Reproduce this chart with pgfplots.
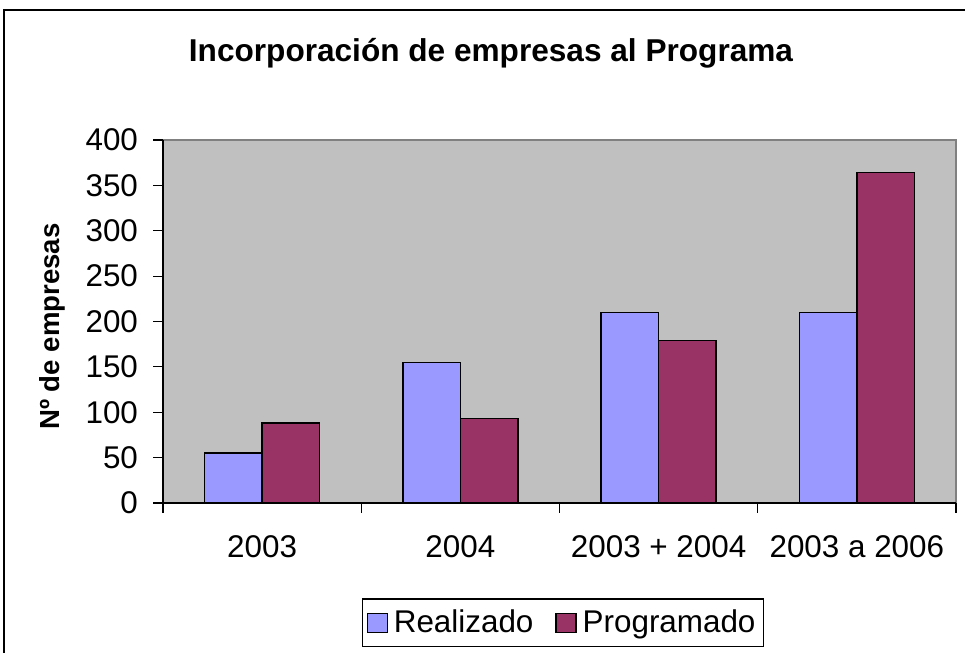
\documentclass[border=0pt]{standalone}
\usepackage{pgfplots}
\pgfplotsset{compat=1.18}
\usepackage{fontspec}
\setmainfont{Liberation Sans}
\definecolor{realiz}{HTML}{9999FF}
\definecolor{progr}{HTML}{993366}
\definecolor{plotbg}{HTML}{C0C0C0}
\begin{document}
\begin{tikzpicture}
\useasboundingbox (0,0) rectangle (482.5pt,326.5pt);
\draw[line width=0.8pt] (2pt,-3pt) rectangle (486pt,321.5pt);
\begin{axis}[
  at={(81.5pt,75pt)}, anchor=south west,
  scale only axis, width=396.5pt, height=181.5pt,
  xmin=-0.5, xmax=3.5, ymin=0, ymax=400,
  ytick={0,50,...,400},
  axis x line*=bottom, axis y line*=left,
  axis line style={line width=0.6pt},
  axis background/.style={fill=plotbg, draw=gray, line width=0.6pt},
  tick align=outside, major tick length=5pt,
  tick style={black, line width=0.6pt},
  xtick={-0.5,0.5,1.5,2.5,3.5}, xticklabels={},
  extra x ticks={0,1,2,3},
  extra x tick labels={2003,2004,2003 + 2004,2003 a 2006},
  extra x tick style={major tick length=0pt, xticklabel style={yshift=-13pt}},
  /pgf/number format/assume math mode=true,
  ticklabel style={font=\fontsize{15.7}{18}\selectfont},
  yticklabel style={xshift=-4pt},
  ylabel={Nº de empresas},
  ylabel style={font=\fontsize{13.8}{16}\selectfont\bfseries, at={(axis description cs:-0.1311,0.486)}, anchor=base, rotate=0},
  ybar, bar width=28.75pt,
  legend columns=2,
  legend style={at={(axis description cs:0.5045,-0.33)}, anchor=center, draw=black, line width=0.6pt,
    font=\fontsize{15.7}{18}\selectfont, inner xsep=2pt, inner ysep=3.5pt,
    /tikz/every odd column/.append style={column sep=1pt},
    /tikz/every even column/.append style={column sep=9pt}},
  legend image code/.code={\draw[#1, line width=0.6pt] (0pt,-4.8pt) rectangle (10pt,4.8pt);},
]
\addplot[fill=realiz, draw=black, line width=0.8pt, bar shift=-14.375pt] coordinates {(0,55) (1,155) (2,210) (3,210)};
\addplot[fill=progr, draw=black, line width=0.8pt, bar shift=14.375pt] coordinates {(0,88) (1,93) (2,179) (3,364)};
\legend{Realizado,Programado}
\end{axis}
\node[anchor=base, font=\fontsize{15.8}{18}\selectfont\bfseries] at (245.5pt,295.5pt) {Incorporación de empresas al Programa};
\end{tikzpicture}
\end{document}
